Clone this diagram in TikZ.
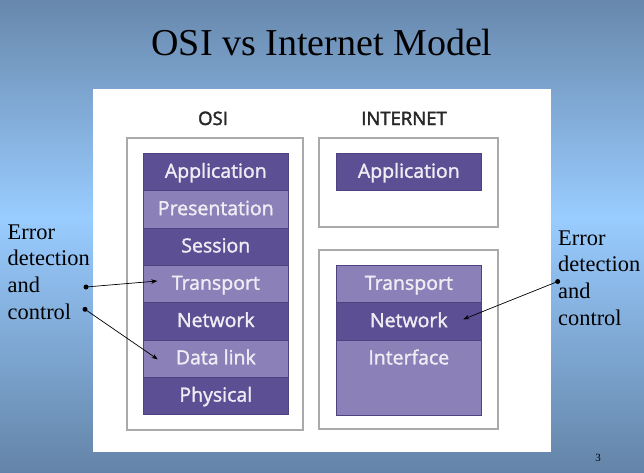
\documentclass[tikz,border=0pt]{standalone}
\usepackage{fontspec}
\setmainfont{Liberation Serif}
\newfontfamily\layerfont[FakeBold=1.6]{Open Sans}
\newfontfamily\headfont[FakeBold=2.2]{Open Sans}
\usetikzlibrary{arrows.meta}
\definecolor{bgtop}{RGB}{104,136,172}
\definecolor{bgmid}{RGB}{153,204,255}
\definecolor{bgbot}{RGB}{100,132,168}
\definecolor{darkp}{RGB}{93,79,148}
\definecolor{lightp}{RGB}{140,128,184}
\definecolor{sepline}{RGB}{78,66,128}
\definecolor{boxline}{RGB}{170,170,170}
\definecolor{labelgray}{RGB}{40,40,40}
\pgfdeclareverticalshading{bgshade}{100bp}{color(0bp)=(bgbot); color(25bp)=(bgbot); color(52bp)=(bgmid); color(75bp)=(bgtop); color(100bp)=(bgtop)}
\tikzset{
  layer/.style={draw=sepline, line width=0.6pt, anchor=north west, inner sep=0pt,
    minimum width=145pt, text height=24.5pt, text depth=12.8pt, text=white!90!darkp,
    font=\layerfont\fontsize{19.5}{21}\selectfont},
  darkrow/.style={layer, fill=darkp},
  lightrow/.style={layer, fill=lightp},
  frame/.style={draw=boxline, line width=1.3pt, fill=white},
  colhead/.style={anchor=base, text=labelgray, font=\headfont\fontsize{18.5}{20}\selectfont},
  note/.style={anchor=north west, align=left, inner sep=0pt, font=\fontsize{22.4}{26.7}\selectfont},
  arr/.style={-{Stealth[length=6pt,width=4.5pt]}, line width=0.7pt},
  dot/.style={circle, fill=black, inner sep=0pt, minimum size=5pt}
}
\begin{document}
\begin{tikzpicture}[x=1pt,y=-1pt]
\useasboundingbox (0,0) rectangle (644,472);
\shade[shading=bgshade] (0,0) rectangle (644,472);
% white panel
\fill[white] (93,89) rectangle (551,452);
% title
\node[anchor=base, font=\fontsize{38}{40}\selectfont] (title) at (322,55) {OSI vs Internet Model};
% column heads
\node[colhead] (osih) at (213,125) {OSI};
\node[colhead] (neth) at (404,125) {INTERNET};
% frames
\draw[frame] (127,138) rectangle (303,430);
\draw[frame] (319,138) rectangle (498,227);
\draw[frame] (319,250) rectangle (498,429);
% OSI rows
\node[darkrow]  (oapp) at (143,153)    {Application};
\node[lightrow] (opre) at (143,190.3)  {Presentation};
\node[darkrow]  (oses) at (143,227.6)  {Session};
\node[lightrow] (otra) at (143,264.9)  {Transport};
\node[darkrow]  (onet) at (143,302.2)  {Network};
\node[lightrow] (odl)  at (143,339.5)  {Data link};
\node[darkrow]  (ophy) at (143,376.8)  {Physical};
% Internet rows
\node[darkrow]  (iapp) at (336,153)    {Application};
\node[lightrow] (itra) at (336,265)    {Transport};
\node[darkrow]  (inet) at (336,302.3)  {Network};
\node[lightrow, text depth=51.2pt] (iif) at (336,339.6) {Interface};
% notes
\node[note] (lnote) at (7.5,224.2) {Error\\detection\\and\\control};
\node[note] (rnote) at (558,230.2) {Error\\detection\\and\\control};
\node[anchor=base, font=\fontsize{11}{12}\selectfont] (pg) at (598,461) {3};
% arrows
\node[dot] (d1) at (86,287) {};
\node[dot] (d2) at (85,309.3) {};
\node[dot] (d3) at (557.7,281.5) {};
\coordinate (t1) at (157.3,281);
\coordinate (t2) at (157.7,359.3);
\coordinate (t3) at (463.3,319.3);
\draw[arr] (d1.center) -- (t1);
\draw[arr] (d2.center) -- (t2);
\draw[arr] (d3.center) -- (t3);
\end{tikzpicture}
\end{document}
